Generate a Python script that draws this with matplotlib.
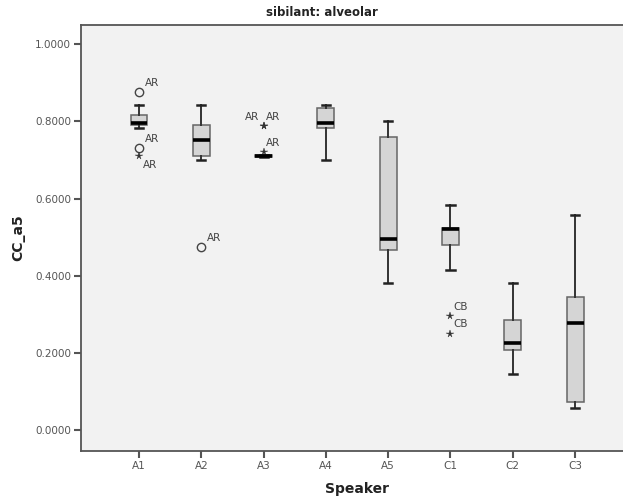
import matplotlib
matplotlib.use("Agg")
import matplotlib.pyplot as plt

# speakers and box statistics
speakers = ["A1", "A2", "A3", "A4", "A5", "C1", "C2", "C3"]
whisk_lo = [0.782, 0.700, 0.709, 0.701, 0.380, 0.415, 0.144, 0.057]
q1 = [0.790, 0.711, 0.709, 0.782, 0.468, 0.479, 0.208, 0.073]
med = [0.796, 0.753, 0.711, 0.797, 0.494, 0.522, 0.226, 0.277]
q3 = [0.816, 0.792, 0.713, 0.836, 0.761, 0.525, 0.285, 0.345]
whisk_hi = [0.842, 0.842, 0.713, 0.843, 0.801, 0.584, 0.382, 0.557]

# outliers (circles) and extremes (stars), with their case labels
circ_spk = [1, 1, 2]
circ_val = [0.877, 0.730, 0.4735]
circ_lab = ["AR", "AR", "AR"]
star_spk = [1, 3, 3, 3, 6, 6]
star_val = [0.710, 0.788, 0.788, 0.720, 0.296, 0.250]
star_lab = ["AR", "AR", "AR", "AR", "CB", "CB"]
# where each star label sits
star_pos = ["below", "left", "right", "right", "right", "right"]

fig = plt.figure(figsize=(6.23, 4.98), dpi=100)
ax = fig.add_axes([80.7 / 623, 47 / 498, 552.7 / 623, 426.5 / 498])
ax.set_facecolor("#f2f2f2")

stats = []
for i in range(len(speakers)):
    stats.append({"whislo": whisk_lo[i], "q1": q1[i], "med": med[i],
                  "q3": q3[i], "whishi": whisk_hi[i], "fliers": []})

pos = list(range(1, len(speakers) + 1))
ax.bxp(stats, positions=pos, widths=0.27, capwidths=0.13, patch_artist=True,
       showfliers=False,
       boxprops=dict(facecolor="#d5d5d5", edgecolor="#666666", linewidth=1.1),
       medianprops=dict(color="black", linewidth=2.6, solid_capstyle="butt"),
       whiskerprops=dict(color="#333333", linewidth=1.4),
       capprops=dict(color="#222222", linewidth=1.8))

ax.plot(circ_spk, circ_val, "o", mfc="none", mec="#444444", ms=6, mew=1)
ax.plot(star_spk, star_val, "*", color="#333333", ms=5.5, mew=0.3)

for x, y, t in zip(circ_spk, circ_val, circ_lab):
    ax.annotate(t, (x, y), xytext=(4, 3), textcoords="offset points",
                ha="left", va="bottom", fontsize=7.5, color="#444444")
for x, y, t, p in zip(star_spk, star_val, star_lab, star_pos):
    if p == "below":
        off, ha, va = (3, -3), "left", "top"
    elif p == "left":
        off, ha, va = (-3, 3), "right", "bottom"
    else:
        off, ha, va = (2, 3), "left", "bottom"
    ax.annotate(t, (x, y), xytext=off, textcoords="offset points",
                ha=ha, va=va, fontsize=7.5, color="#444444")

ax.set_xlim(0.064, 8.936)
ax.set_ylim(-0.0545, 1.0515)
ax.set_xticks(pos)
ax.set_xticklabels(speakers)
ax.set_yticks([0, 0.2, 0.4, 0.6, 0.8, 1.0])
ax.set_yticklabels(["%.4f" % v for v in [0, 0.2, 0.4, 0.6, 0.8, 1.0]])
ax.tick_params(axis="both", length=5, width=1.5, color="#555555",
               labelsize=7.5, labelcolor="#555555", pad=2)
for s in ax.spines.values():
    s.set_color("#555555")
    s.set_linewidth(1.3)

ax.set_xlabel("Speaker", fontsize=10, fontweight="bold", color="#222222", labelpad=8)
ax.set_ylabel("CC_a5", fontsize=10, fontweight="bold", color="#222222", labelpad=7)
fig.text(322 / 623, 1 - 13 / 498, "sibilant: alveolar", ha="center", va="center",
         fontsize=8.5, fontweight="bold", color="#222222")

fig.savefig("out.png", dpi=100)
